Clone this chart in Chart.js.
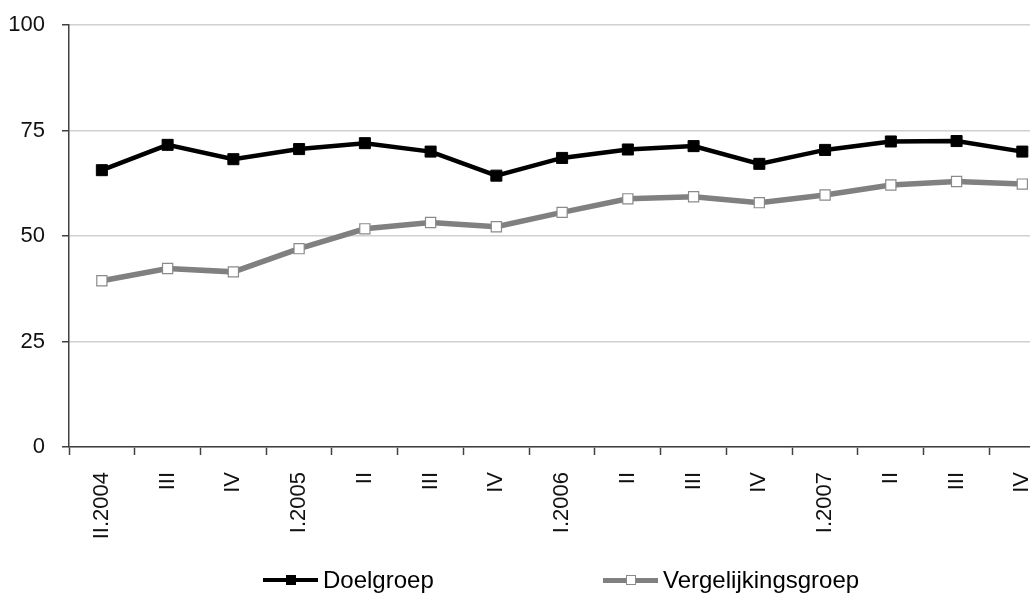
<!DOCTYPE html>
<html>
<head>
<meta charset="utf-8">
<script src="https://cdn.jsdelivr.net/npm/chart.js@4.4.0/dist/chart.umd.min.js"></script>
<style>
html,body{margin:0;padding:0;overflow:hidden;background:#fff;width:1030px;height:595px;}
#wrap{position:absolute;left:0;top:0;width:1064px;height:595px;}
.leg{position:absolute;top:566px;height:28px;display:flex;align-items:center;font-family:"Liberation Sans",Arial,sans-serif;font-size:24px;line-height:28px;color:#000;white-space:nowrap;}
.mk{position:relative;width:55px;height:28px;margin-right:5px;flex:none;}
.mk .ln{position:absolute;left:0;right:0;top:50%;}
.mk .sq{position:absolute;left:50%;top:50%;width:10px;height:10px;transform:translate(-50%,-50%);box-sizing:border-box;}
</style>
</head>
<body>
<div id="wrap"><canvas id="c" width="1064" height="595"></canvas></div>
<div class="leg" style="left:263px;">
  <span class="mk"><span class="ln" style="height:4px;margin-top:-2px;background:#000;"></span><span class="sq" style="background:#000;"></span></span>
  <span id="l1"></span>
</div>
<div class="leg" style="left:603px;">
  <span class="mk"><span class="ln" style="height:5px;margin-top:-2.5px;background:#808080;"></span><span class="sq" style="background:#fff;border:1px solid #8a8a8a;"></span></span>
  <span id="l2"></span>
</div>
<script>
const categories = ['II.2004','III','IV','I.2005','II','III','IV','I.2006','II','III','IV','I.2007','II','III','IV'];
const seriesNames = ['Doelgroep','Vergelijkingsgroep'];
const doelgroep = [65.6,71.6,68.2,70.6,72.0,70.0,64.3,68.5,70.5,71.3,67.1,70.4,72.4,72.5,70.0];
const vergelijkingsgroep = [39.4,42.3,41.5,47.0,51.7,53.2,52.2,55.6,58.8,59.3,57.9,59.7,62.1,62.9,62.3];
const yTicks = [0,25,50,75,100];

document.getElementById('l1').textContent = seriesNames[0];
document.getElementById('l2').textContent = seriesNames[1];

const tickFont = {family:'"Liberation Sans",Arial,sans-serif', size:22};

new Chart(document.getElementById('c'), {
  type:'line',
  data:{
    labels:categories,
    datasets:[
      {label:seriesNames[1], data:vergelijkingsgroep, borderColor:'#808080', borderWidth:5.5, tension:0,
       pointStyle:'rect', pointRadius:7.2, pointBackgroundColor:'#fff', pointBorderColor:'#8a8a8a', pointBorderWidth:1.2},
      {label:seriesNames[0], data:doelgroep, borderColor:'#000', borderWidth:4.5, tension:0,
       pointStyle:'rect', pointRadius:7.8, pointBackgroundColor:'#000', pointBorderColor:'#000', pointBorderWidth:1}
    ]
  },
  options:{
    responsive:false,
    animation:false,
    layout:{padding:{top:25,right:0,bottom:0,left:0}},
    plugins:{legend:{display:false}, tooltip:{enabled:false}},
    scales:{
      x:{
        offset:true,
        grid:{offset:true, drawOnChartArea:false, drawTicks:true, tickLength:8, tickColor:'#404040', tickWidth:1.5},
        border:{color:'#404040', width:1.5},
        ticks:{autoSkip:false, maxRotation:90, minRotation:90, padding:17, color:'#111', font:tickFont},
        afterFit(s){ s.height = 148; s.paddingLeft = 0; s.paddingRight = 0; }
      },
      y:{
        min:0, max:100,
        afterBuildTicks(s){ s.ticks = yTicks.map(v => ({value:v})); },
        grid:{color:'#d0d0d0', lineWidth:1.5, tickLength:7, tickColor:'#404040', tickWidth:1.5},
        border:{color:'#404040', width:1.5},
        ticks:{padding:17, color:'#111', font:tickFont},
        afterFit(s){ s.width = 69; s.paddingTop = 0; s.paddingBottom = 0; }
      }
    }
  }
});
</script>
</body>
</html>
